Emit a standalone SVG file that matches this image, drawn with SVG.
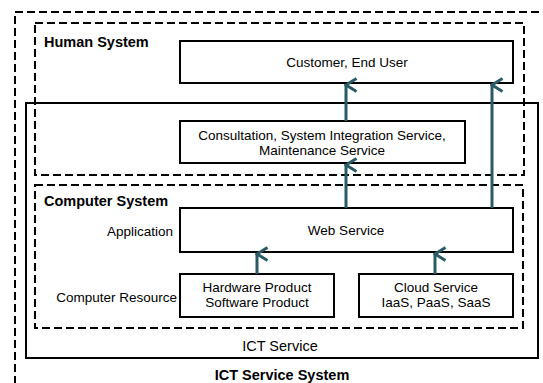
<svg xmlns="http://www.w3.org/2000/svg" width="543" height="383" viewBox="0 0 543 383">
  <style>
    .dash { fill: none; stroke: #000; stroke-width: 2; stroke-dasharray: 8 4; }
    .box { fill: #fff; stroke: #000; stroke-width: 2; }
    .frame { fill: none; stroke: #000; stroke-width: 2; }
    text { font-family: "Liberation Sans", Arial, sans-serif; fill: #000; }
    .t { font-size: 13.5px; text-anchor: middle; }
    .lbl { font-size: 13.5px; text-anchor: end; }
    .b { font-size: 14.5px; font-weight: bold; }
    .conn line { stroke: #2A5B64; stroke-width: 3; }
  </style>
  <defs>
    <marker id="head" viewBox="0 0 16 14" refX="8" refY="2" markerWidth="16" markerHeight="14" markerUnits="userSpaceOnUse" orient="auto-start-reverse">
      <polyline points="1.5,12.5 8,2 14.5,12.5" fill="none" stroke="#2A5B64" stroke-width="3"/>
    </marker>
  </defs>

  <rect width="543" height="383" fill="#fff"/>

  <!-- ICT Service System boundary -->
  <g id="ict-service-system">
    <rect class="dash" x="15" y="12" width="540" height="390"/>
    <text class="b" x="282" y="380" text-anchor="middle">ICT Service System</text>
  </g>

  <!-- ICT Service boundary -->
  <g id="ict-service">
    <rect class="frame" x="26" y="103" width="512" height="255"/>
    <text x="280" y="351" font-size="14.5" text-anchor="middle">ICT Service</text>
  </g>

  <!-- Human System -->
  <g id="human-system">
    <rect class="dash" x="35" y="23" width="489" height="152"/>
    <text class="b" x="44" y="47">Human System</text>
  </g>

  <!-- Computer System -->
  <g id="computer-system">
    <rect class="dash" x="35" y="185" width="488" height="143"/>
    <text class="b" x="44" y="206">Computer System</text>
    <text class="lbl" x="173" y="236">Application</text>
    <text class="lbl" x="177" y="302">Computer Resource</text>
  </g>

  <g id="customer">
    <rect class="box" x="180" y="41" width="333" height="42"/>
    <text class="t" x="347" y="67">Customer, End User</text>
  </g>

  <g id="consultation">
    <rect class="box" x="180" y="121" width="285" height="42"/>
    <text class="t" x="322" y="140">Consultation, System Integration Service,</text>
    <text class="t" x="322" y="155">Maintenance Service</text>
  </g>

  <g id="web-service">
    <rect class="box" x="180" y="208" width="333" height="44"/>
    <text class="t" x="346" y="235">Web Service</text>
  </g>

  <g id="hw-sw-product">
    <rect class="box" x="180" y="274" width="154" height="43"/>
    <text class="t" x="257" y="292">Hardware Product</text>
    <text class="t" x="257" y="307">Software Product</text>
  </g>

  <g id="cloud-service">
    <rect class="box" x="359" y="274" width="154" height="43"/>
    <text class="t" x="436" y="292">Cloud Service</text>
    <text class="t" x="436" y="307">IaaS, PaaS, SaaS</text>
  </g>

  <!-- connectors -->
  <g id="connectors" class="conn">
    <line x1="346" y1="121" x2="346" y2="85" marker-end="url(#head)"/>
    <line x1="346" y1="208" x2="346" y2="165" marker-end="url(#head)"/>
    <line x1="492" y1="208" x2="492" y2="85" marker-end="url(#head)"/>
    <line x1="257" y1="274" x2="257" y2="254" marker-end="url(#head)"/>
    <line x1="435" y1="274" x2="435" y2="254" marker-end="url(#head)"/>
  </g>
</svg>
